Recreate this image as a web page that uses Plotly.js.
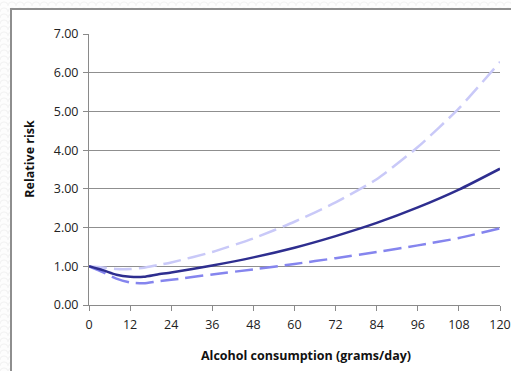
<!DOCTYPE html>
<html>
<head>
<meta charset="utf-8">
<script src="https://cdn.plot.ly/plotly-3.0.1.min.js"></script>
<style>
  html, body { margin: 0; padding: 0; width: 511px; height: 371px; overflow: hidden; }
  body {
    background-color: #fdfdfd;
    background-image: radial-gradient(circle at 50% 100%, transparent 3px, #f1f1f1 4px, transparent 5px);
    background-size: 8px 6px;
    position: relative;
  }
  #frame {
    position: absolute; left: 10px; top: 8px; width: 600px; height: 400px;
    background: #fff; border: 2px solid #8e8e8e; box-sizing: border-box;
  }
  #chart { position: absolute; left: 0; top: 0; width: 511px; height: 371px; }
</style>
</head>
<body>
<div id="frame"></div>
<div id="chart"></div>
<script>
// Alcohol intake (grams/day) and relative risk curves
const grams      = [0, 4, 8, 12, 16, 20, 24, 36, 48, 60, 72, 84, 96, 108, 120];
const riskMain   = [1.00, 0.90, 0.78, 0.73, 0.73, 0.79, 0.84, 1.02, 1.23, 1.48, 1.78, 2.12, 2.52, 2.98, 3.52];
const riskUpper  = [1.00, 0.97, 0.93, 0.93, 0.96, 1.03, 1.10, 1.37, 1.72, 2.15, 2.65, 3.25, 4.08, 5.08, 6.28];
const riskLower  = [1.00, 0.85, 0.68, 0.58, 0.56, 0.61, 0.65, 0.79, 0.92, 1.06, 1.21, 1.37, 1.54, 1.73, 1.98];
const xTicks     = [0, 12, 24, 36, 48, 60, 72, 84, 96, 108, 120];
const yTicks     = [0, 1, 2, 3, 4, 5, 6, 7];
const yTickText  = yTicks.map(v => v.toFixed(2));

const FONT = '"Open Sans", "Liberation Sans", sans-serif';

const traces = [
  { x: grams, y: riskUpper, mode: 'lines', line: { color: '#c9c9f8', width: 2.5, dash: '18px,7px', shape: 'spline', smoothing: 0.6 }, hoverinfo: 'skip' },
  { x: grams, y: riskLower, mode: 'lines', line: { color: '#8585ee', width: 2.5, dash: '18px,7px', shape: 'spline', smoothing: 0.6 }, hoverinfo: 'skip' },
  { x: grams, y: riskMain,  mode: 'lines', line: { color: '#2e2e8f', width: 2.5, shape: 'spline', smoothing: 0.6 }, hoverinfo: 'skip' }
];

const layout = {
  width: 511, height: 371,
  margin: { l: 89, r: 11, t: 34, b: 66 },
  paper_bgcolor: 'rgba(0,0,0,0)',
  plot_bgcolor: 'rgba(0,0,0,0)',
  showlegend: false,
  font: { family: FONT, size: 12.5, color: '#222' },
  xaxis: {
    range: [0, 120], tickvals: xTicks, ticktext: xTicks.map(String),
    showgrid: false, zeroline: false,
    showline: true, linecolor: '#8a8a8a', linewidth: 1,
    ticks: 'outside', ticklen: 5, tickcolor: '#8a8a8a',
    ticklabelstandoff: 3,
    tickfont: { family: FONT, size: 12.5, color: '#222' },
    automargin: false, fixedrange: true
  },
  yaxis: {
    range: [0, 7], tickvals: yTicks, ticktext: yTickText,
    showgrid: true, gridcolor: '#8f8f8f', gridwidth: 1, zeroline: false,
    showline: true, linecolor: '#8a8a8a', linewidth: 1,
    ticks: 'outside', ticklen: 5, tickcolor: '#8a8a8a',
    ticklabelstandoff: 2,
    tickfont: { family: FONT, size: 12.5, color: '#222' },
    automargin: false, fixedrange: true
  },
  annotations: [
    { text: '<b>Alcohol consumption (grams/day)</b>', xref: 'paper', yref: 'paper',
      x: 0.528, y: 0, yshift: -50, xanchor: 'center', yanchor: 'middle', showarrow: false,
      font: { family: FONT, size: 12.5, color: '#111' } },
    { text: '<b>Relative risk</b>', xref: 'paper', yref: 'paper',
      x: 0, xshift: -59, y: 0.54, xanchor: 'center', yanchor: 'middle', showarrow: false, textangle: -90,
      font: { family: FONT, size: 12.5, color: '#111' } }
  ]
};

Plotly.newPlot('chart', traces, layout, { displayModeBar: false, staticPlot: true });
</script>
</body>
</html>
